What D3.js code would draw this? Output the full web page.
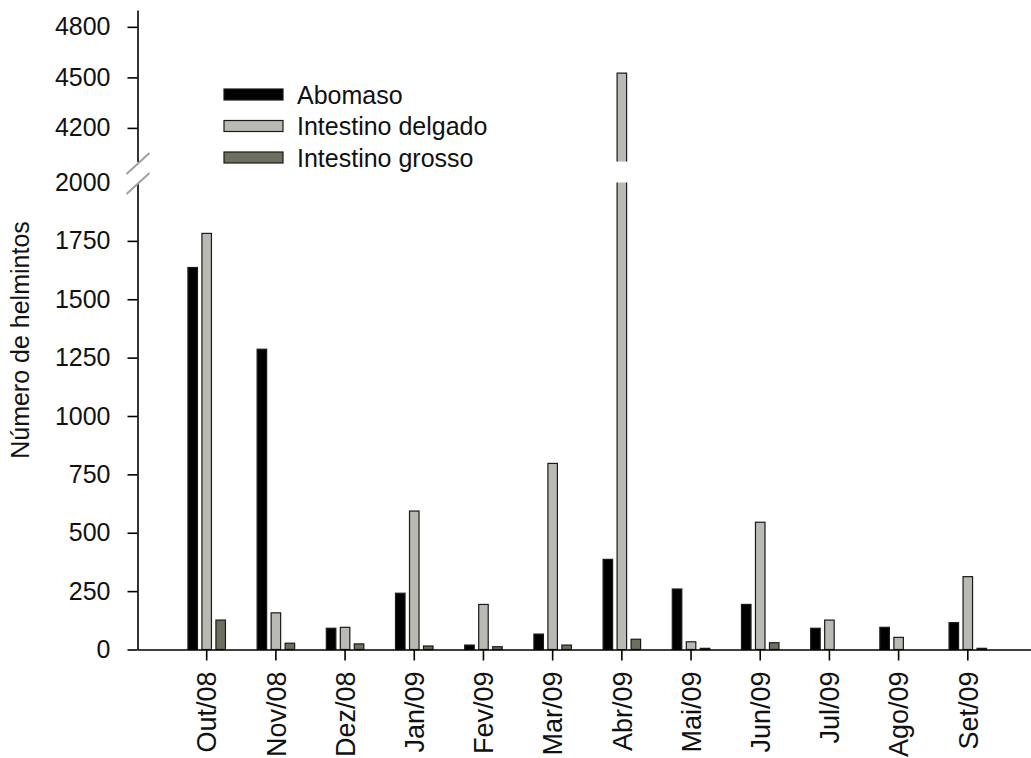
<!DOCTYPE html>
<html>
<head>
<meta charset="utf-8">
<script src="https://cdn.jsdelivr.net/npm/d3@7"></script>
<style>
  html, body { margin: 0; padding: 0; background: #ffffff; }
  svg { display: block; font-family: Arial, "Liberation Sans", sans-serif; }
</style>
</head>
<body>
<svg id="chart" width="1031" height="758"></svg>
<script>
// Monthly helminth counts by organ
const months = ["Out/08","Nov/08","Dez/08","Jan/09","Fev/09","Mar/09","Abr/09","Mai/09","Jun/09","Jul/09","Ago/09","Set/09"];
const seriesNames = ["Abomaso", "Intestino delgado", "Intestino grosso"];
const abomaso = [1636, 1286, 91, 241, 19, 66, 386, 259, 193, 91, 95, 115];
const intestinoDelgado = [1782, 157, 95, 593, 193, 797, 4525, 33, 545, 126, 52, 312];
const intestinoGrosso = [126, 27, 24, 15, 12, 19, 44, 5, 29, 0, 0, 5];
const lowerTicks = [0, 250, 500, 750, 1000, 1250, 1500, 1750, 2000];
const upperTicks = [4200, 4500, 4800];

const seriesValues = [abomaso, intestinoDelgado, intestinoGrosso];
const colors = ["#000000", "#b9bab3", "#6c715d"];

const svg = d3.select("#chart");

// Broken y axis: two linear segments
const breakLow = 2000, breakHigh = 4000;
const yLow = d3.scaleLinear().domain([0, breakLow]).range([649.5, 182.5]);
const yHigh = d3.scaleLinear().domain([breakHigh, 4900]).range([161.6, 10]);
const axisX = 137.5;

const x = d3.scaleBand().domain(months).range([axisX, 1037]).paddingInner(0).paddingOuter(0.5);
const xs = d3.scaleBand().domain(seriesNames).range([-18.75, 18.75]).paddingInner(0.32).paddingOuter(0);

// Bars
const rows = [];
months.forEach((m, i) => {
  seriesNames.forEach((s, j) => {
    rows.push({ month: m, series: s, value: seriesValues[j][i], color: colors[j] });
  });
});

const barG = svg.append("g");
rows.filter(d => d.value > 0).forEach(d => {
  const bx = x(d.month) + x.bandwidth() / 2 + xs(d.series);
  if (d.value <= breakLow) {
    barG.append("rect")
      .attr("x", bx).attr("width", xs.bandwidth())
      .attr("y", yLow(d.value)).attr("height", yLow(0) - yLow(d.value))
      .attr("fill", d.color).attr("stroke", "#1a1a1a").attr("stroke-width", 1.2);
  } else {
    // lower piece without a top edge, upper piece without a bottom edge
    const w = xs.bandwidth();
    barG.append("rect")
      .attr("x", bx).attr("width", w)
      .attr("y", yLow(breakLow)).attr("height", yLow(0) - yLow(breakLow))
      .attr("fill", d.color);
    barG.append("path")
      .attr("d", `M${bx},${yLow(breakLow)}V${yLow(0)}H${bx + w}V${yLow(breakLow)}`)
      .attr("fill", "none").attr("stroke", "#1a1a1a").attr("stroke-width", 1.2);
    barG.append("rect")
      .attr("x", bx).attr("width", w)
      .attr("y", yHigh(d.value)).attr("height", yHigh(breakHigh) - yHigh(d.value))
      .attr("fill", d.color);
    barG.append("path")
      .attr("d", `M${bx},${yHigh(breakHigh)}V${yHigh(d.value)}H${bx + w}V${yHigh(breakHigh)}`)
      .attr("fill", "none").attr("stroke", "#1a1a1a").attr("stroke-width", 1.2);
  }
});

// Y axis, lower segment
const fmt = d3.format("d");
const gLow = svg.append("g").attr("transform", `translate(${axisX},0)`)
  .call(d3.axisLeft(yLow).tickValues(lowerTicks).tickFormat(fmt).tickSize(10).tickSizeOuter(0).tickPadding(17));
gLow.selectAll(".tick").filter(d => d === breakLow).select("line").remove();

// Y axis, upper segment
const gHigh = svg.append("g").attr("transform", `translate(${axisX},0)`)
  .call(d3.axisLeft(yHigh).tickValues(upperTicks).tickFormat(fmt).tickSize(10).tickSizeOuter(0).tickPadding(17));

[gLow, gHigh].forEach(g => {
  g.select(".domain").attr("stroke", "#000").attr("stroke-width", 1.6);
  g.selectAll(".tick line").attr("stroke", "#000").attr("stroke-width", 1.6);
  g.selectAll(".tick text").attr("font-size", 25).attr("fill", "#111")
    .attr("font-family", "Arial, 'Liberation Sans', sans-serif");
});

// Break marks
const slashes = [yHigh(breakHigh) + 2.5, yLow(breakLow) + 1.5];
slashes.forEach(yc => {
  svg.append("line")
    .attr("x1", axisX - 11).attr("y1", yc + 10)
    .attr("x2", axisX + 12).attr("y2", yc - 11)
    .attr("stroke", "#a0a0a0").attr("stroke-width", 2);
});

// X axis
const gx = svg.append("g").attr("transform", `translate(0,${yLow(0)})`)
  .call(d3.axisBottom(x).tickSize(11).tickSizeOuter(0).tickPadding(0));
gx.select(".domain").attr("stroke", "#000").attr("stroke-width", 1.6);
gx.selectAll(".tick line").attr("stroke", "#000").attr("stroke-width", 1.6);
gx.selectAll(".tick text")
  .attr("font-size", 27).attr("fill", "#111")
  .attr("font-family", "Arial, 'Liberation Sans', sans-serif")
  .attr("text-anchor", "end")
  .attr("transform", "translate(0,22) rotate(-90)")
  .attr("x", 0).attr("y", 0).attr("dy", "0.36em");

// Y axis title
svg.append("text")
  .attr("transform", "translate(20,340) rotate(-90)")
  .attr("text-anchor", "middle").attr("dy", "0.36em")
  .attr("font-size", 25).attr("fill", "#111")
  .text("Número de helmintos");

// Legend
const legend = svg.append("g").attr("transform", "translate(224,89)");
seriesNames.forEach((s, j) => {
  const row = legend.append("g").attr("transform", `translate(0,${j * 31.5})`);
  row.append("rect").attr("width", 59).attr("height", 11)
    .attr("fill", colors[j]).attr("stroke", "#1a1a1a").attr("stroke-width", 1.2);
  row.append("text").attr("x", 73).attr("y", 5.5).attr("dy", "0.36em")
    .attr("font-size", 25).attr("fill", "#111").text(s);
});
</script>
</body>
</html>
